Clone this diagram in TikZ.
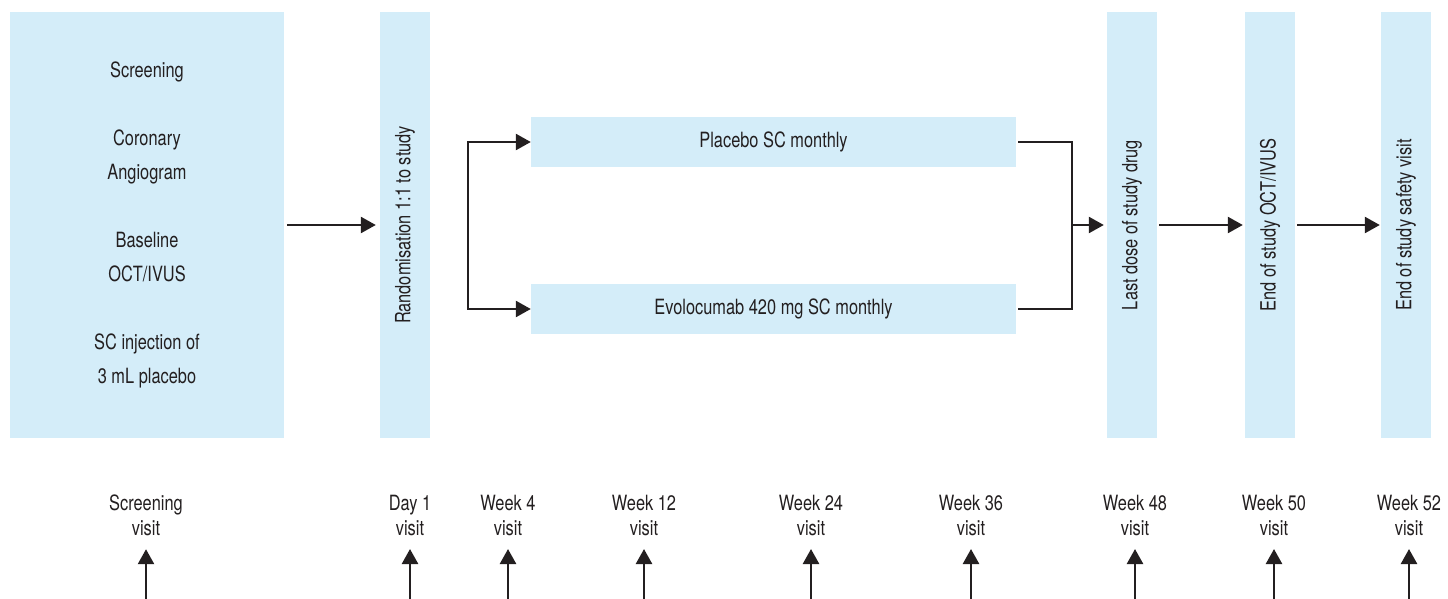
\documentclass[tikz,border=0pt]{standalone}
\usepackage{fontspec}
\setmainfont{TeX Gyre Heros}[FakeStretch=0.78]
\usetikzlibrary{arrows.meta}
\definecolor{boxblue}{HTML}{D4EDF9}
\definecolor{ink}{HTML}{231F20}

\begin{document}
\begin{tikzpicture}[x=1pt, y=-1pt,
    box/.style={rectangle, fill=boxblue, text=ink, inner sep=0pt, align=center,
      font=\fontsize{21}{34}\selectfont},
    bar/.style={box, minimum width=425pt, minimum height=50pt, rotate=90},
    arm/.style={box, minimum width=485pt, minimum height=50pt},
    visit/.style={text=ink, inner sep=0pt, align=center, font=\fontsize{21}{25}\selectfont},
    wire/.style={line width=2.5pt, draw=ink},
    flow/.style={wire, ->},
    >={Triangle[length=15pt,width=16pt]}]
    \useasboundingbox (0,0) rectangle (1448,599);
    % study boxes
    \node[box, minimum width=274pt, minimum height=425pt] (screen) at (147,225)
      {Screening\\[34pt] Coronary\\ Angiogram\\[34pt] Baseline\\ OCT/IVUS\\[34pt] SC injection of\\ 3 mL placebo};
    \node[bar] (rand) at (405,225) {Randomisation 1:1 to study};
    \node[arm] (placebo) at (773.5,142) {Placebo SC monthly};
    \node[arm] (evolo) at (773.5,309) {Evolocumab 420 mg SC monthly};
    \node[bar] (last) at (1132,225) {Last dose of study drug};
    \node[bar] (endoct) at (1270,225) {End of study OCT/IVUS};
    \node[bar] (safety) at (1406,225) {End of study safety visit};
    \coordinate (split) at (468,225);
    \coordinate (merge) at (1072,225);
    \draw[flow, shorten <=3pt, shorten >=4pt] (screen) -- (rand);
    \draw[flow, <->] (placebo.west) -| (split) |- (evolo.west);
    \draw[wire, shorten <=2pt, shorten >=2pt] (placebo.east) -| (merge) |- (evolo.east);
    \draw[flow, shorten >=3pt] (merge) -- (last);
    \draw[flow, shorten <=2pt, shorten >=2pt] (last) -- (endoct);
    \draw[flow, shorten <=2pt, shorten >=1pt] (endoct) -- (safety);
    % visits
    \node[visit] (v1) at (146,515.5) {Screening\\visit};
    \node[visit] (v2) at (410,515.5) {Day 1\\visit};
    \node[visit] (v3) at (508,515.5) {Week 4\\visit};
    \node[visit] (v4) at (644,515.5) {Week 12\\visit};
    \node[visit] (v5) at (811,515.5) {Week 24\\visit};
    \node[visit] (v6) at (971,515.5) {Week 36\\visit};
    \node[visit] (v7) at (1135,515.5) {Week 48\\visit};
    \node[visit] (v8) at (1274,515.5) {Week 50\\visit};
    \node[visit] (v9) at (1409,515.5) {Week 52\\visit};
    \coordinate (b1) at (146,599);
    \coordinate (b2) at (410,599);
    \coordinate (b3) at (508,599);
    \coordinate (b4) at (644,599);
    \coordinate (b5) at (811,599);
    \coordinate (b6) at (971,599);
    \coordinate (b7) at (1135,599);
    \coordinate (b8) at (1274,599);
    \coordinate (b9) at (1409,599);
    \draw[flow, shorten >=13pt] (b1) -- (v1);
    \draw[flow, shorten >=13pt] (b2) -- (v2);
    \draw[flow, shorten >=13pt] (b3) -- (v3);
    \draw[flow, shorten >=13pt] (b4) -- (v4);
    \draw[flow, shorten >=13pt] (b5) -- (v5);
    \draw[flow, shorten >=13pt] (b6) -- (v6);
    \draw[flow, shorten >=13pt] (b7) -- (v7);
    \draw[flow, shorten >=13pt] (b8) -- (v8);
    \draw[flow, shorten >=13pt] (b9) -- (v9);
\end{tikzpicture}
\end{document}
